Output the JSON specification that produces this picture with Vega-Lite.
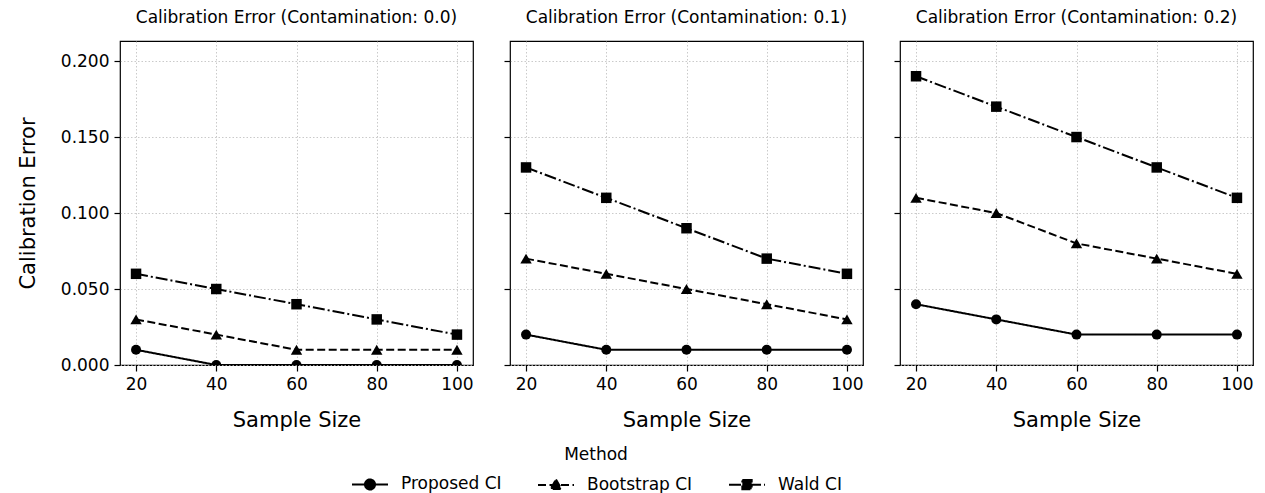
{
  "$schema": "https://vega.github.io/schema/vega-lite/v6.json",
  "padding": {"left": 16, "top": 8, "right": 5, "bottom": 0},
  "datasets": {"errors": [
    {"contamination": 0.0, "n": 20, "method": "Proposed CI", "error": 0.01},
    {"contamination": 0.0, "n": 40, "method": "Proposed CI", "error": 0.0},
    {"contamination": 0.0, "n": 60, "method": "Proposed CI", "error": 0.0},
    {"contamination": 0.0, "n": 80, "method": "Proposed CI", "error": 0.0},
    {"contamination": 0.0, "n": 100, "method": "Proposed CI", "error": 0.0},
    {"contamination": 0.0, "n": 20, "method": "Bootstrap CI", "error": 0.03},
    {"contamination": 0.0, "n": 40, "method": "Bootstrap CI", "error": 0.02},
    {"contamination": 0.0, "n": 60, "method": "Bootstrap CI", "error": 0.01},
    {"contamination": 0.0, "n": 80, "method": "Bootstrap CI", "error": 0.01},
    {"contamination": 0.0, "n": 100, "method": "Bootstrap CI", "error": 0.01},
    {"contamination": 0.0, "n": 20, "method": "Wald CI", "error": 0.06},
    {"contamination": 0.0, "n": 40, "method": "Wald CI", "error": 0.05},
    {"contamination": 0.0, "n": 60, "method": "Wald CI", "error": 0.04},
    {"contamination": 0.0, "n": 80, "method": "Wald CI", "error": 0.03},
    {"contamination": 0.0, "n": 100, "method": "Wald CI", "error": 0.02},
    {"contamination": 0.1, "n": 20, "method": "Proposed CI", "error": 0.02},
    {"contamination": 0.1, "n": 40, "method": "Proposed CI", "error": 0.01},
    {"contamination": 0.1, "n": 60, "method": "Proposed CI", "error": 0.01},
    {"contamination": 0.1, "n": 80, "method": "Proposed CI", "error": 0.01},
    {"contamination": 0.1, "n": 100, "method": "Proposed CI", "error": 0.01},
    {"contamination": 0.1, "n": 20, "method": "Bootstrap CI", "error": 0.07},
    {"contamination": 0.1, "n": 40, "method": "Bootstrap CI", "error": 0.06},
    {"contamination": 0.1, "n": 60, "method": "Bootstrap CI", "error": 0.05},
    {"contamination": 0.1, "n": 80, "method": "Bootstrap CI", "error": 0.04},
    {"contamination": 0.1, "n": 100, "method": "Bootstrap CI", "error": 0.03},
    {"contamination": 0.1, "n": 20, "method": "Wald CI", "error": 0.13},
    {"contamination": 0.1, "n": 40, "method": "Wald CI", "error": 0.11},
    {"contamination": 0.1, "n": 60, "method": "Wald CI", "error": 0.09},
    {"contamination": 0.1, "n": 80, "method": "Wald CI", "error": 0.07},
    {"contamination": 0.1, "n": 100, "method": "Wald CI", "error": 0.06},
    {"contamination": 0.2, "n": 20, "method": "Proposed CI", "error": 0.04},
    {"contamination": 0.2, "n": 40, "method": "Proposed CI", "error": 0.03},
    {"contamination": 0.2, "n": 60, "method": "Proposed CI", "error": 0.02},
    {"contamination": 0.2, "n": 80, "method": "Proposed CI", "error": 0.02},
    {"contamination": 0.2, "n": 100, "method": "Proposed CI", "error": 0.02},
    {"contamination": 0.2, "n": 20, "method": "Bootstrap CI", "error": 0.11},
    {"contamination": 0.2, "n": 40, "method": "Bootstrap CI", "error": 0.10},
    {"contamination": 0.2, "n": 60, "method": "Bootstrap CI", "error": 0.08},
    {"contamination": 0.2, "n": 80, "method": "Bootstrap CI", "error": 0.07},
    {"contamination": 0.2, "n": 100, "method": "Bootstrap CI", "error": 0.06},
    {"contamination": 0.2, "n": 20, "method": "Wald CI", "error": 0.19},
    {"contamination": 0.2, "n": 40, "method": "Wald CI", "error": 0.17},
    {"contamination": 0.2, "n": 60, "method": "Wald CI", "error": 0.15},
    {"contamination": 0.2, "n": 80, "method": "Wald CI", "error": 0.13},
    {"contamination": 0.2, "n": 100, "method": "Wald CI", "error": 0.11}
  ]},
  "data": {"name": "errors"},
  "spacing": 28,
  "hconcat": [
    {
      "width": 353, "height": 324,
      "title": "Calibration Error (Contamination: 0.0)",
      "transform": [{"filter": "datum.contamination == 0"}],
      "encoding": {
        "x": {"field": "n", "type": "quantitative", "scale": {"domain": [16, 104], "nice": false, "zero": false}, "axis": {"title": "Sample Size", "values": [20, 40, 60, 80, 100], "titlePadding": 17}},
        "y": {"field": "error", "type": "quantitative", "scale": {"domain": [0, 0.2132], "nice": false}, "axis": {"title": "Calibration Error", "values": [0, 0.05, 0.1, 0.15, 0.2], "format": ".3f", "titlePadding": 22}}
      },
      "layer": [
        {
          "mark": {"type": "line", "color": "black", "strokeWidth": 2, "clip": true},
          "encoding": {
            "strokeDash": {"field": "method", "type": "nominal", "scale": {"domain": ["Proposed CI", "Bootstrap CI", "Wald CI"], "range": [[1, 0], [8, 3.5], [12, 3, 2, 3]]},
              "legend": {"title": "Method", "orient": "none", "legendX": 231, "legendY": 406, "direction": "horizontal", "titleAnchor": "middle", "titlePadding": 1, "symbolSize": 1296, "columnPadding": 32, "labelOffset": 12,
                "encode": {"symbols": {"update": {
                  "shape": {"signal": "datum.value === 'Proposed CI' ? 'M-1,0H1M0.28,0A0.28,0.28,0,1,1,-0.28,0A0.28,0.28,0,1,1,0.28,0Z' : datum.value === 'Bootstrap CI' ? 'M-1,0H1M0,-0.3L0.3,0.22L-0.3,0.22Z' : 'M-1,0H1M-0.26,-0.26H0.26V0.26H-0.26Z'"},
                  "fill": {"value": "black"}, "stroke": {"value": "black"}, "strokeWidth": {"value": 2}, "opacity": {"value": 1}}}}}}
          }
        },
        {"transform": [{"filter": "datum.method == 'Proposed CI'"}], "mark": {"type": "point", "shape": "circle", "filled": true, "color": "black", "size": 100, "opacity": 1, "clip": true}},
        {"transform": [{"filter": "datum.method == 'Bootstrap CI'"}], "mark": {"type": "point", "shape": "triangle-up", "filled": true, "color": "black", "size": 130, "opacity": 1, "clip": true}},
        {"transform": [{"filter": "datum.method == 'Wald CI'"}], "mark": {"type": "point", "shape": "square", "filled": true, "color": "black", "size": 110, "opacity": 1, "clip": true}}
      ]
    },
    {
      "width": 353, "height": 324,
      "title": "Calibration Error (Contamination: 0.1)",
      "transform": [{"filter": "datum.contamination == 0.1"}],
      "encoding": {
        "x": {"field": "n", "type": "quantitative", "scale": {"domain": [16, 104], "nice": false, "zero": false}, "axis": {"title": "Sample Size", "values": [20, 40, 60, 80, 100], "titlePadding": 17}},
        "y": {"field": "error", "type": "quantitative", "scale": {"domain": [0, 0.2132], "nice": false}, "axis": {"title": null, "labels": false, "values": [0, 0.05, 0.1, 0.15, 0.2]}}
      },
      "layer": [
        {
          "mark": {"type": "line", "color": "black", "strokeWidth": 2, "clip": true},
          "encoding": {
            "strokeDash": {"field": "method", "type": "nominal", "scale": {"domain": ["Proposed CI", "Bootstrap CI", "Wald CI"], "range": [[1, 0], [8, 3.5], [12, 3, 2, 3]]}, "legend": null}
          }
        },
        {"transform": [{"filter": "datum.method == 'Proposed CI'"}], "mark": {"type": "point", "shape": "circle", "filled": true, "color": "black", "size": 100, "opacity": 1, "clip": true}},
        {"transform": [{"filter": "datum.method == 'Bootstrap CI'"}], "mark": {"type": "point", "shape": "triangle-up", "filled": true, "color": "black", "size": 130, "opacity": 1, "clip": true}},
        {"transform": [{"filter": "datum.method == 'Wald CI'"}], "mark": {"type": "point", "shape": "square", "filled": true, "color": "black", "size": 110, "opacity": 1, "clip": true}}
      ]
    },
    {
      "width": 353, "height": 324,
      "title": "Calibration Error (Contamination: 0.2)",
      "transform": [{"filter": "datum.contamination == 0.2"}],
      "encoding": {
        "x": {"field": "n", "type": "quantitative", "scale": {"domain": [16, 104], "nice": false, "zero": false}, "axis": {"title": "Sample Size", "values": [20, 40, 60, 80, 100], "titlePadding": 17}},
        "y": {"field": "error", "type": "quantitative", "scale": {"domain": [0, 0.2132], "nice": false}, "axis": {"title": null, "labels": false, "values": [0, 0.05, 0.1, 0.15, 0.2]}}
      },
      "layer": [
        {
          "mark": {"type": "line", "color": "black", "strokeWidth": 2, "clip": true},
          "encoding": {
            "strokeDash": {"field": "method", "type": "nominal", "scale": {"domain": ["Proposed CI", "Bootstrap CI", "Wald CI"], "range": [[1, 0], [8, 3.5], [12, 3, 2, 3]]}, "legend": null}
          }
        },
        {"transform": [{"filter": "datum.method == 'Proposed CI'"}], "mark": {"type": "point", "shape": "circle", "filled": true, "color": "black", "size": 100, "opacity": 1, "clip": true}},
        {"transform": [{"filter": "datum.method == 'Bootstrap CI'"}], "mark": {"type": "point", "shape": "triangle-up", "filled": true, "color": "black", "size": 130, "opacity": 1, "clip": true}},
        {"transform": [{"filter": "datum.method == 'Wald CI'"}], "mark": {"type": "point", "shape": "square", "filled": true, "color": "black", "size": 110, "opacity": 1, "clip": true}}
      ]
    }
  ],
  "config": {
    "font": "DejaVu Sans",
    "view": {"stroke": "black", "strokeWidth": 1.2},
    "axis": {"domain": false, "tickColor": "black", "tickSize": 6, "tickWidth": 1.2, "labelColor": "black", "labelFontSize": 17, "labelPadding": 5, "titleFontSize": 21, "titleFontWeight": "normal", "titleColor": "black", "titlePadding": 10, "grid": true, "gridColor": "#bdbdbd", "gridDash": [1.5, 2], "gridWidth": 0.8, "labelFlush": false},
    "title": {"fontSize": 17, "fontWeight": "normal", "color": "black", "offset": 14},
    "legend": {"titleFontSize": 17, "titleFontWeight": "normal", "titleColor": "black", "labelFontSize": 17, "labelColor": "black", "symbolStrokeColor": "black", "symbolFillColor": "black", "symbolStrokeWidth": 2}
  }
}
